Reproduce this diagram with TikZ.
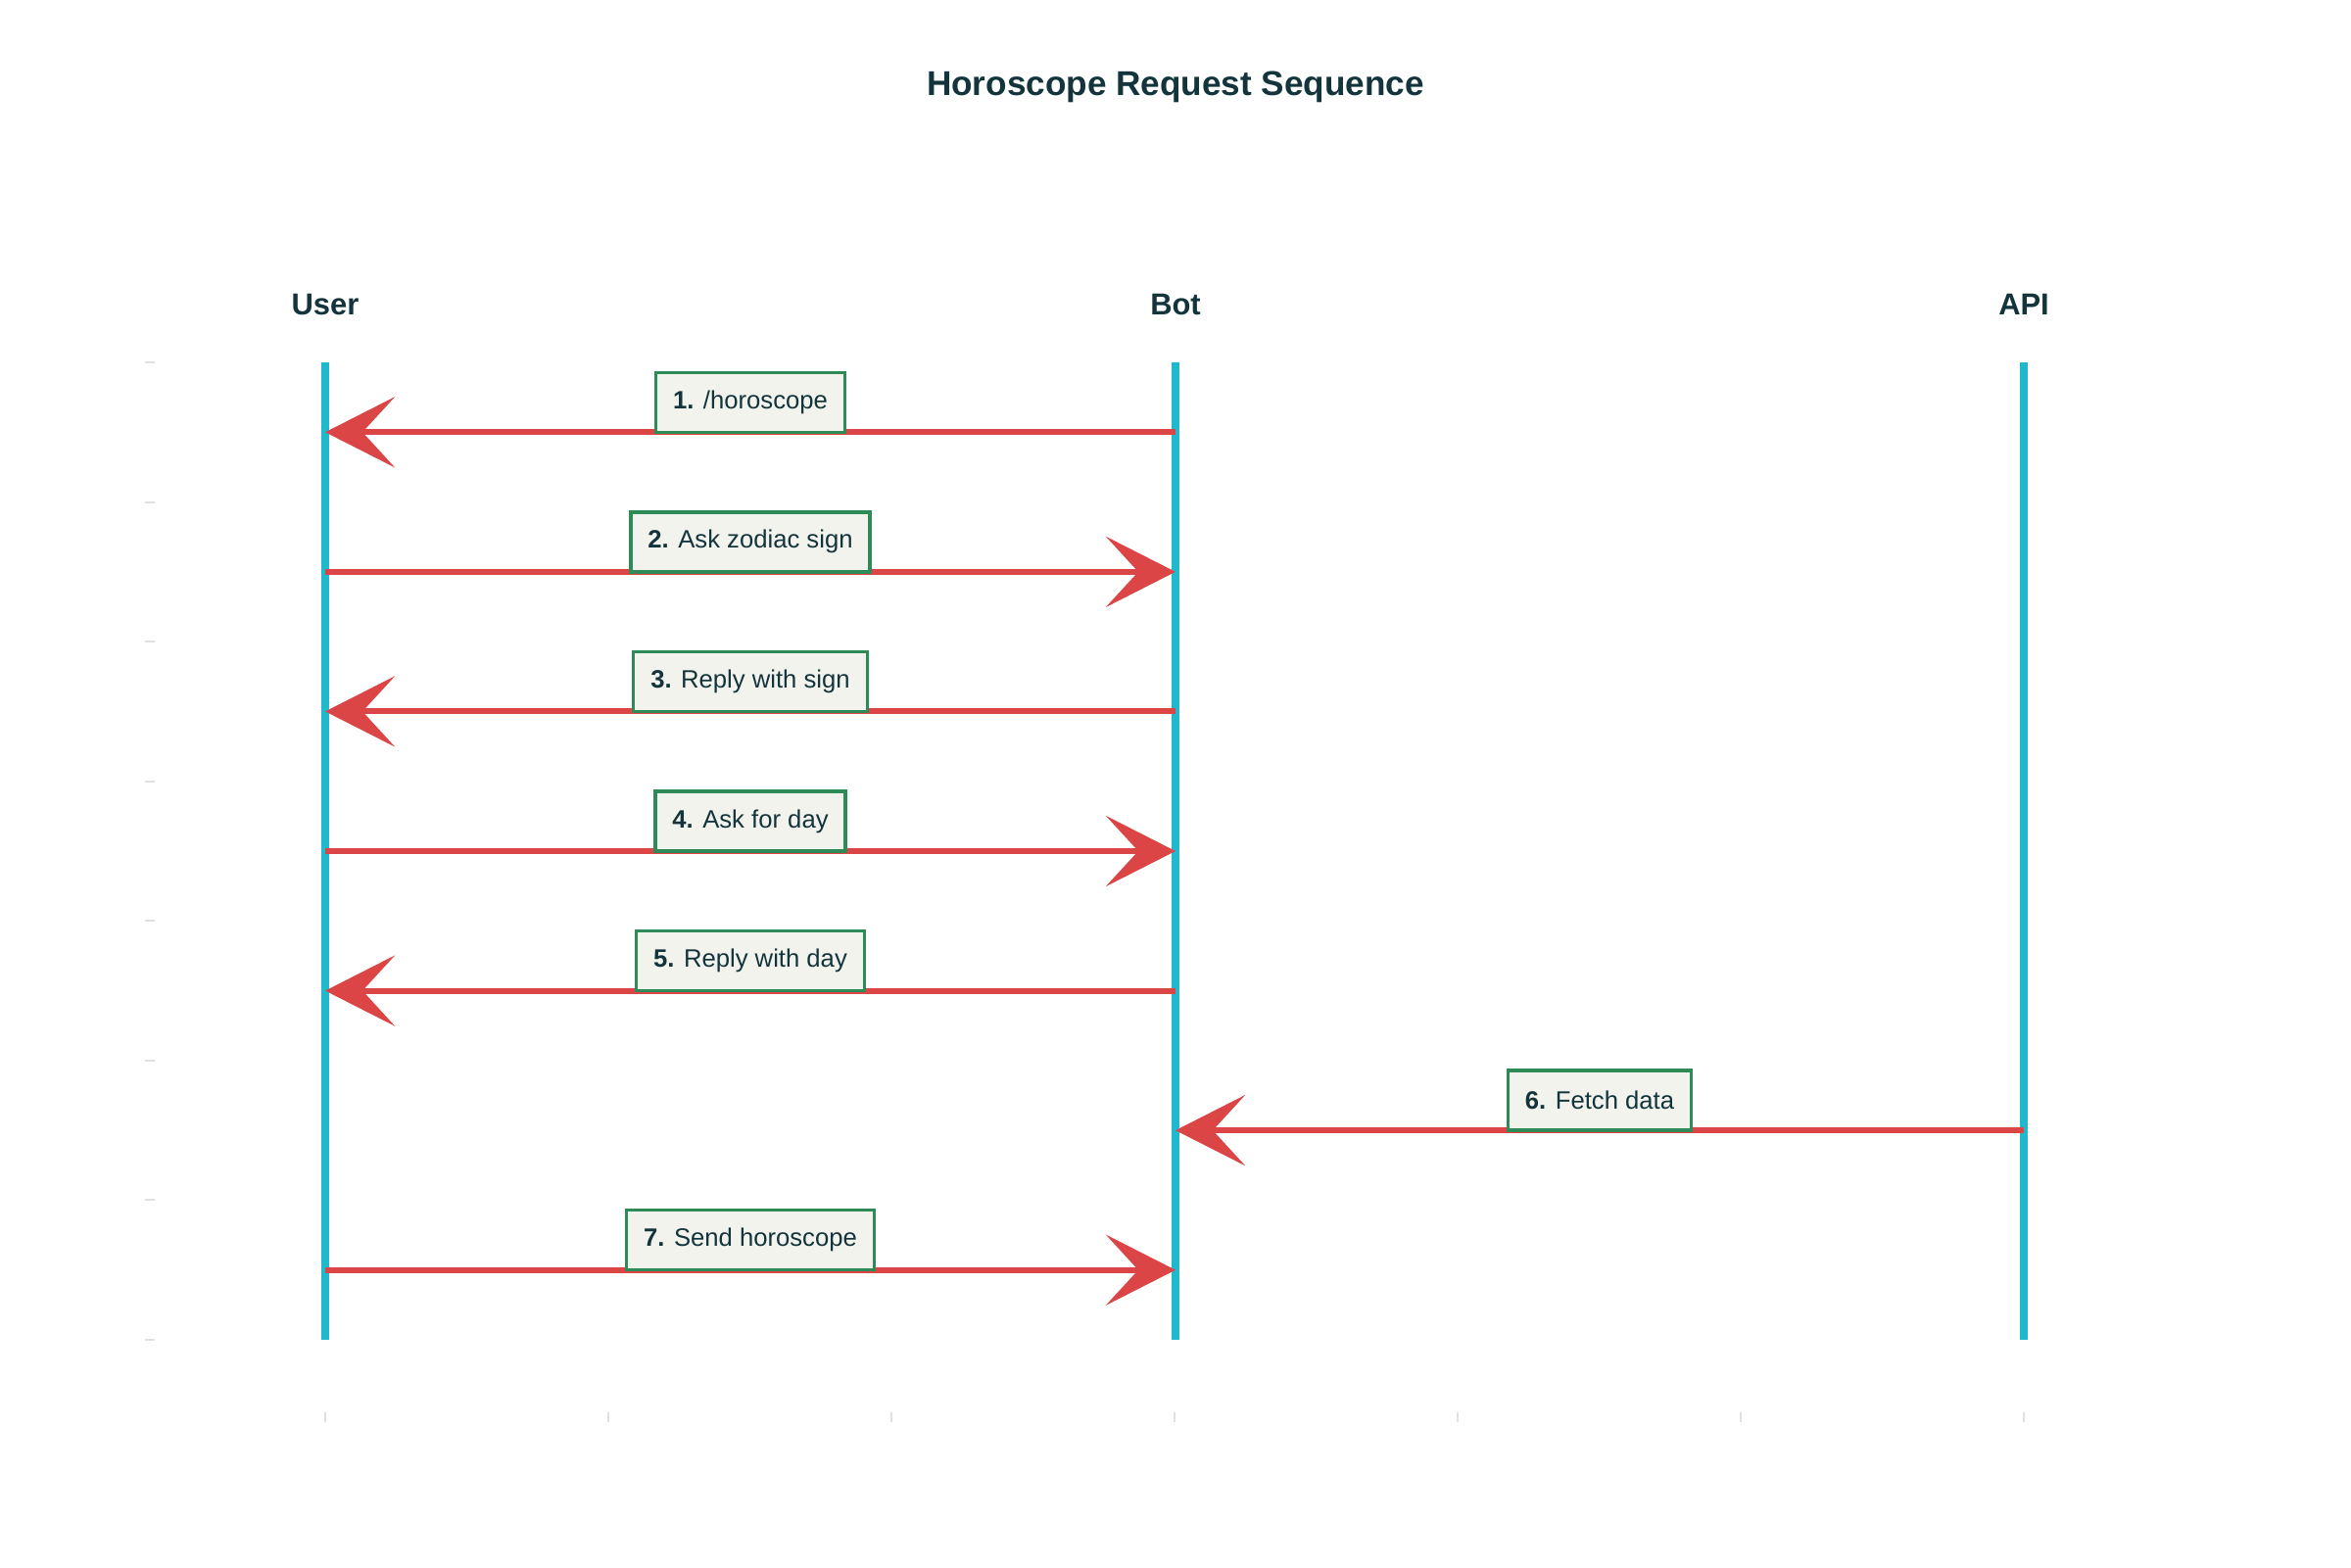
\documentclass[tikz,border=0pt]{standalone}
\usepackage{fontspec}
\setmainfont{Liberation Sans}
\usetikzlibrary{arrows.meta}
\usetikzlibrary{calc,positioning}

\definecolor{lifeblue}{HTML}{1FB8CD}
\definecolor{msgred}{HTML}{DB4545}
\definecolor{boxgreen}{HTML}{2E8B57}
\definecolor{boxfill}{HTML}{F3F3EE}
\definecolor{inkteal}{HTML}{13343B}
\definecolor{tickgray}{HTML}{E2E0DE}

\begin{document}
\begin{tikzpicture}[>={Stealth[length=0.71cm, width=0.72cm, inset=0.33cm]},
    lifeline/.style={lifeblue, line width=0.08cm},
    message/.style={->, msgred, line width=0.06cm},
    msgbox/.style={draw=boxgreen, fill=boxfill, line width=1pt, text=inkteal,
        font=\fontsize{7.3}{9}\selectfont, inner xsep=5pt, minimum height=0.61cm,
        outer sep=0pt, anchor=south},
    actor/.style={text=inkteal, font=\fontsize{8.8}{10}\selectfont\bfseries},
    axtick/.style={tickgray, line width=0.02cm}]

    \useasboundingbox (0,0) rectangle (24,-16);

    \node[text=inkteal, font=\fontsize{10}{12}\selectfont\bfseries] (title) at (12,-0.89) {Horoscope Request Sequence};

    % participants
    \node[actor] (user) at (3.32,-3.11) {User};
    \node[actor] (bot) at (12.00,-3.11) {Bot};
    \node[actor] (api) at (20.66,-3.11) {API};

    \coordinate (user top) at (3.32,-3.70);
    \coordinate (bot top) at (12.00,-3.70);
    \coordinate (api top) at (20.66,-3.70);
    \coordinate (user bottom) at (3.32,-13.68);
    \coordinate (bot bottom) at (12.00,-13.68);
    \coordinate (api bottom) at (20.66,-13.68);

    \draw[lifeline] (user top) -- (user bottom);
    \draw[lifeline] (bot top) -- (bot bottom);
    \draw[lifeline] (api top) -- (api bottom);

    % axis ticks
    \foreach \k in {0,...,7}
        \draw[axtick] (1.48,{-3.70-\k*1.4257}) -- (1.58,{-3.70-\k*1.4257});
    \foreach \k in {0,...,6}
        \draw[axtick] ({3.32+\k*2.89},-14.42) -- ({3.32+\k*2.89},-14.52);

    % messages
    \foreach \k/\from/\to/\num/\txt in {1/bot/user/1./{/horoscope},
            2/user/bot/2./Ask zodiac sign,
            3/bot/user/3./Reply with sign,
            4/user/bot/4./Ask for day,
            5/bot/user/5./Reply with day,
            6/api/bot/6./Fetch data,
            7/user/bot/7./Send horoscope}
    {
        \coordinate (m\k) at (0,{-3.70-(\k-0.5)*1.4257});
        \draw[message] (\from\space top |- m\k) -- node[msgbox] {\textbf{\num} \txt} (\to\space top |- m\k);
    }

\end{tikzpicture}
\end{document}
